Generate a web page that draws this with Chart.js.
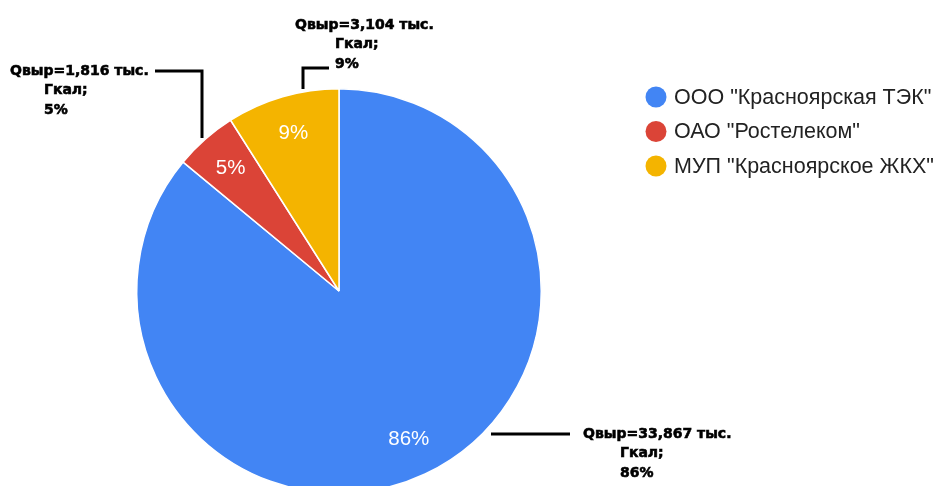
<!DOCTYPE html>
<html lang="ru">
<head>
<meta charset="utf-8">
<script src="https://cdn.jsdelivr.net/npm/chart.js@4.4.1/dist/chart.umd.min.js"></script>
<style>
  html, body { margin: 0; padding: 0; background: #fff; overflow: hidden; }
  #grafica { display: block; }
</style>
</head>
<body>
<canvas id="grafica" width="936" height="500"></canvas>
<script>
// Datos del gráfico
const etiquetas = ['ООО "Красноярская ТЭК"', 'ОАО "Ростелеком"', 'МУП "Красноярское ЖКХ"'];
const porcentajes = [86, 5, 9];
const qValores = ['33,867', '1,816', '3,104'];
const colores = ['#4285F4', '#DB4437', '#F4B400'];

// Posición de las llamadas externas (línea guía + texto)
const llamadas = [
    { linea: [[491, 434], [570, 434]], texto: [583, 434], sangria: 37 },
    { linea: [[202, 138], [202, 71], [155, 71]], texto: [10, 71], sangria: 34 },
    { linea: [[303, 89], [303, 68], [329, 68]], texto: [295, 25], sangria: 40 }
];

const pluginEtiquetas = {
    id: 'etiquetas',
    afterDatasetsDraw(chart) {
        const ctx = chart.ctx;
        const arcos = chart.getDatasetMeta(0).data;
        ctx.save();
        // porcentajes dentro de cada sector
        ctx.fillStyle = '#fff';
        ctx.font = '20.5px "Liberation Sans", Arial, sans-serif';
        ctx.textAlign = 'center';
        ctx.textBaseline = 'middle';
        arcos.forEach((arco, i) => {
            const medio = (arco.startAngle + arco.endAngle) / 2;
            const r = arco.outerRadius * 0.81;
            ctx.fillText(porcentajes[i] + '%', arco.x + Math.cos(medio) * r, arco.y + Math.sin(medio) * r);
        });

        // llamadas externas
        ctx.strokeStyle = '#000';
        ctx.fillStyle = '#000';
        ctx.textAlign = 'left';
        ctx.font = 'bold 14px "DejaVu Sans", sans-serif';
        llamadas.forEach((ll, i) => {
            ctx.lineWidth = 3;
            ctx.beginPath();
            ll.linea.forEach((p, k) => k === 0 ? ctx.moveTo(p[0], p[1]) : ctx.lineTo(p[0], p[1]));
            ctx.stroke();
            const [tx, ty] = ll.texto;
            const lineas = [
                ['Qвыр=' + qValores[i] + ' тыс.', tx, ty],
                ['Гкал;', tx + ll.sangria, ty + 19.5],
                [porcentajes[i] + '%', tx + ll.sangria, ty + 39]
            ];
            ctx.lineWidth = 0.6;
            lineas.forEach(([t, x, y]) => {
                ctx.fillText(t, x, y);
                ctx.strokeText(t, x, y);
            });
        });

        // leyenda
        ctx.font = '21.5px "Liberation Sans", Arial, sans-serif';
        etiquetas.forEach((et, i) => {
            const y = 97 + i * 34.5;
            ctx.fillStyle = colores[i];
            ctx.beginPath();
            ctx.arc(656, y, 10.5, 0, Math.PI * 2);
            ctx.fill();
            ctx.fillStyle = '#222';
            ctx.fillText(et, 674, y + 1);
        });
        ctx.restore();
    }
};

new Chart(document.getElementById('grafica'), {
    type: 'pie',
    data: {
        labels: etiquetas,
        datasets: [{
            data: porcentajes,
            backgroundColor: colores,
            borderColor: '#fff',
            borderWidth: 1.5
        }]
    },
    options: {
        responsive: false,
        animation: false,
        layout: { padding: { left: 136, right: 394, top: 88, bottom: 6 } },
        plugins: { legend: { display: false }, tooltip: { enabled: false } }
    },
    plugins: [pluginEtiquetas]
});
</script>
</body>
</html>
